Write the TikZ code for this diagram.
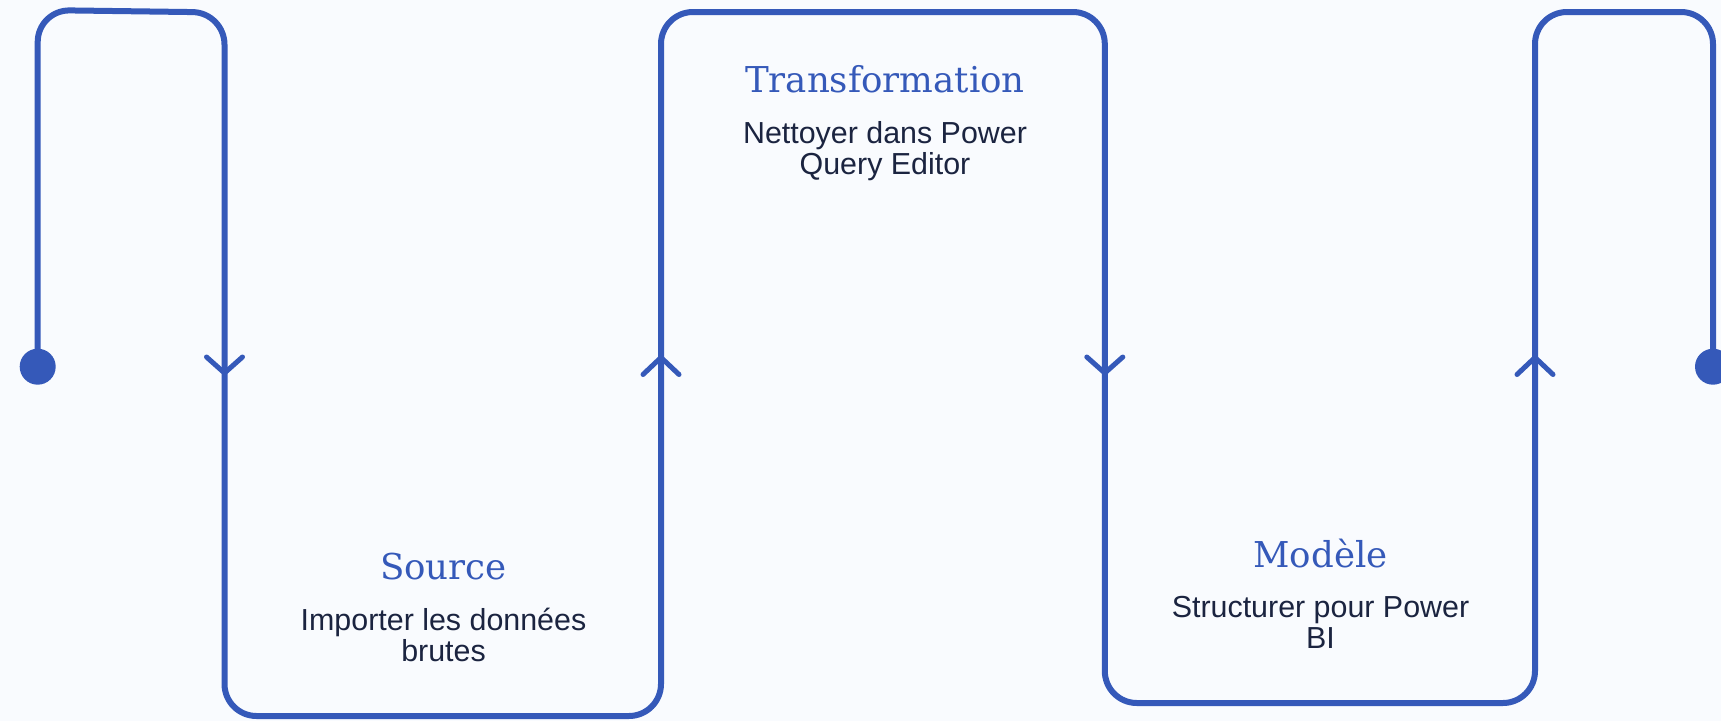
\documentclass[tikz,border=0pt]{standalone}
\usepackage{fontspec}
\setmainfont{Liberation Sans}
\newfontfamily\titlefont{DejaVu Serif}
\definecolor{flow}{HTML}{3559B9}
\definecolor{ink}{HTML}{1B2440}
\definecolor{paper}{HTML}{F9FBFE}
\tikzset{
  flowline/.style={draw=flow, line width=4.5pt, rounded corners=24pt, line join=round},
  chev/.style={draw=flow, line width=3.75pt, line cap=round, line join=round},
  dot/.style={circle, fill=flow, inner sep=0pt, minimum size=27pt},
  steptitle/.style={text=flow, anchor=base, inner sep=0pt, font=\titlefont\fontsize{26.7pt}{30pt}\selectfont},
  stepdesc/.style={text=ink, anchor=base, inner sep=0pt, align=center, font=\fontsize{22.8pt}{23.25pt}\selectfont}
}
\begin{document}
\begin{tikzpicture}[x=0.75pt,y=-0.75pt]
\fill[paper] (0,0) rectangle (1721,721);
\useasboundingbox (0,0) rectangle (1721,721);
% path coordinates
\coordinate (start) at (37.7,366.7);
\coordinate (a1) at (37.7,10);
\coordinate (a2) at (224.5,12.5);
\coordinate (b1) at (224.5,716);
\coordinate (b2) at (661,716);
\coordinate (c1) at (661,12);
\coordinate (c2) at (1104.8,12);
\coordinate (d1) at (1104.8,703);
\coordinate (d2) at (1535,703);
\coordinate (e1) at (1535,12);
\coordinate (e2) at (1713,12);
\coordinate (end) at (1713,366.7);
\draw[flowline] (start) -- (a1) -- (a2) -- (b1) -- (b2) -- (c1) -- (c2) -- (d1) -- (d2) -- (e1) -- (e2) -- (end);
\node[dot] (startdot) at (start) {};
\node[dot] (enddot) at (end) {};
% chevrons
\coordinate (m1) at (224.5,373);
\coordinate (m2) at (661,357.5);
\coordinate (m3) at (1104.8,373);
\coordinate (m4) at (1535,357.5);
\draw[chev] ([shift={(-18,-16)}]m1) -- (m1) -- ([shift={(18,-16)}]m1);
\draw[chev] ([shift={(-18,17)}]m2) -- (m2) -- ([shift={(18,17)}]m2);
\draw[chev] ([shift={(-18,-16)}]m3) -- (m3) -- ([shift={(18,-16)}]m3);
\draw[chev] ([shift={(-18,17)}]m4) -- (m4) -- ([shift={(18,17)}]m4);
% texts (multi-line nodes anchored at the baseline of their last line)
\node[steptitle] (t1) at (443.5,579) {Source};
\node[stepdesc] (d1t) at (443.5,661) {Importer les données\\brutes};
\node[steptitle] (t2) at (885,92) {Transformation};
\node[stepdesc] (d2t) at (885,174) {Nettoyer dans Power\\Query Editor};
\node[steptitle] (t3) at (1320.5,567) {Modèle};
\node[stepdesc] (d3t) at (1320.5,648) {Structurer pour Power\\BI};
\end{tikzpicture}
\end{document}
